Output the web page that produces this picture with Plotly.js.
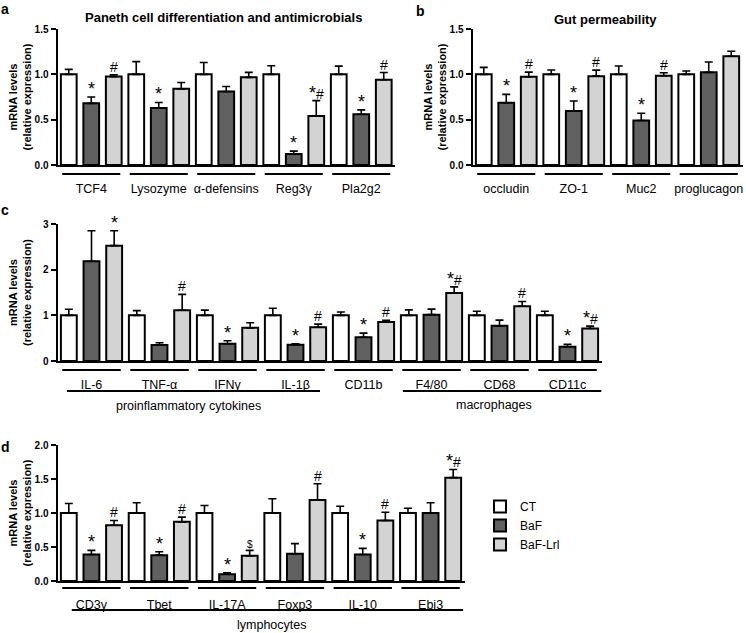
<!DOCTYPE html>
<html>
<head>
<meta charset="utf-8">
<script src="https://cdn.plot.ly/plotly-3.0.1.min.js"></script>
<style>html,body{margin:0;padding:0;background:#fff;}#chart{width:746px;height:633px;}</style>
</head>
<body>
<div id="chart"></div>
<script>
// ---------- DATA ----------
const seriesNames = ['CT', 'BaF', 'BaF-Lrl'];

// Panel a: Paneth cell differentiation and antimicrobials
const catA = ['TCF4', 'Lysozyme', 'α-defensins', 'Reg3γ', 'Pla2g2'];
const ctA = [1.0, 1.0, 1.0, 1.0, 1.0];
const ctAErr = [0.055, 0.14, 0.13, 0.095, 0.09];
const bafA = [0.68, 0.63, 0.81, 0.12, 0.56];
const bafAErr = [0.07, 0.06, 0.055, 0.033, 0.048];
const lrlA = [0.975, 0.84, 0.967, 0.54, 0.94];
const lrlAErr = [0.02, 0.07, 0.055, 0.17, 0.08];
const sigBafA = ['*', '*', '', '*', '*'];
const sigLrlA = ['#', '', '', '*#', '#'];

// Panel b: Gut permeability
const catB = ['occludin', 'ZO-1', 'Muc2', 'proglucagon'];
const ctB = [1.0, 1.0, 1.0, 1.0];
const ctBErr = [0.077, 0.048, 0.092, 0.037];
const bafB = [0.687, 0.596, 0.49, 1.022];
const bafBErr = [0.092, 0.11, 0.08, 0.114];
const lrlB = [0.974, 0.98, 0.985, 1.2];
const lrlBErr = [0.05, 0.066, 0.033, 0.055];
const sigBafB = ['*', '*', '*', ''];
const sigLrlB = ['#', '#', '#', ''];

// Panel c: cytokines and macrophage markers
const catC = ['IL-6', 'TNF-α', 'IFNγ', 'IL-1β', 'CD11b', 'F4/80', 'CD68', 'CD11c'];
const ctC = [1.0, 1.0, 1.0, 1.0, 1.0, 1.0, 1.0, 1.0];
const ctCErr = [0.133, 0.104, 0.114, 0.155, 0.074, 0.12, 0.09, 0.09];
const bafC = [2.185, 0.348, 0.378, 0.356, 0.52, 1.015, 0.77, 0.311];
const bafCErr = [0.667, 0.052, 0.067, 0.022, 0.09, 0.12, 0.126, 0.052];
const lrlC = [2.526, 1.111, 0.726, 0.74, 0.852, 1.49, 1.2, 0.711];
const lrlCErr = [0.326, 0.348, 0.11, 0.067, 0.037, 0.133, 0.104, 0.052];
const sigBafC = ['', '', '*', '*', '*', '', '', '*'];
const sigLrlC = ['*', '#', '', '#', '#', '*#', '#', '*#'];
const groupC1 = 'proinflammatory cytokines';
const groupC2 = 'macrophages';

// Panel d: lymphocytes
const catD = ['CD3γ', 'Tbet', 'IL-17A', 'Foxp3', 'IL-10', 'Ebi3'];
const ctD = [1.0, 1.0, 1.0, 1.0, 1.0, 1.0];
const ctDErr = [0.14, 0.15, 0.11, 0.21, 0.1, 0.07];
const bafD = [0.39, 0.38, 0.1, 0.4, 0.39, 1.0];
const bafDErr = [0.06, 0.05, 0.02, 0.15, 0.09, 0.15];
const lrlD = [0.82, 0.87, 0.37, 1.19, 0.89, 1.52];
const lrlDErr = [0.07, 0.07, 0.08, 0.24, 0.12, 0.12];
const sigBafD = ['*', '*', '*', '', '*', ''];
const sigLrlD = ['#', '#', '$', '#', '#', '*#'];
const groupD1 = 'lymphocytes';

// ---------- STYLE / LAYOUT ----------
const W = 746, H = 633;
const FONT = 'Arial, "Liberation Sans", Helvetica, sans-serif';
const colors = ['#ffffff', '#606060', '#d3d3d3'];
const px = p => p / W;
const py = p => 1 - p / H;

const panels = [
  {key: 'a', xa: 'x',  ya: 'y',  cats: catA, vals: [ctA, bafA, lrlA], errs: [ctAErr, bafAErr, lrlAErr], sig: [null, sigBafA, sigLrlA],
   x0: 57.5, x1: 395, y0: 29, y1: 165, yr: [0, 1.5], dtick: 0.5, fmt: '.1f', ul: 174, letter: [5, 9], title: 'Paneth cell differentiation and antimicrobials', tpos: [224, 18]},
  {key: 'b', xa: 'x2', ya: 'y2', cats: catB, vals: [ctB, bafB, lrlB], errs: [ctBErr, bafBErr, lrlBErr], sig: [null, sigBafB, sigLrlB],
   x0: 472.5, x1: 742.5, y0: 29, y1: 165, yr: [0, 1.5], dtick: 0.5, fmt: '.1f', ul: 174, letter: [420, 11], title: 'Gut permeability', tpos: [605, 19]},
  {key: 'c', xa: 'x3', ya: 'y3', cats: catC, vals: [ctC, bafC, lrlC], errs: [ctCErr, bafCErr, lrlCErr], sig: [null, sigBafC, sigLrlC],
   x0: 57.5, x1: 601.5, y0: 224, y1: 361, yr: [0, 3], dtick: 1, fmt: 'd', ul: 370, letter: [5, 210]},
  {key: 'd', xa: 'x4', ya: 'y4', cats: catD, vals: [ctD, bafD, lrlD], errs: [ctDErr, bafDErr, lrlDErr], sig: [null, sigBafD, sigLrlD],
   x0: 57.5, x1: 464.5, y0: 445, y1: 581, yr: [0, 2], dtick: 0.5, fmt: '.1f', ul: 588, letter: [5, 447]}
];

const traces = [];
const annotations = [];
const shapes = [];
const layout = {
  width: W, height: H,
  margin: {l: 0, r: 0, t: 0, b: 0},
  paper_bgcolor: '#fff', plot_bgcolor: '#fff',
  font: {family: FONT, color: '#000'},
  barmode: 'group', bargap: 0, bargroupgap: 0.3,
  showlegend: true,
  legend: {x: px(480), y: py(492), xanchor: 'left', yanchor: 'top', font: {size: 12, family: FONT}, bgcolor: 'rgba(0,0,0,0)', tracegroupgap: 0, itemwidth: 30},
  annotations: annotations, shapes: shapes
};

function sigText(s) {
  return s.replace('*', '<span style="font-size:18px">*</span>');
}

panels.forEach((p, pi) => {
  const axN = p.xa === 'x' ? '' : p.xa.slice(1);
  layout['xaxis' + axN] = {
    domain: [px(p.x0), px(p.x1)], anchor: p.ya, type: 'category',
    range: [-0.5, p.cats.length - 0.5],
    showline: true, linewidth: 2, linecolor: '#000', ticks: '', showgrid: false, zeroline: false,
    tickfont: {size: 12.5, family: FONT, color: '#000'}, ticklabelstandoff: 11, fixedrange: true
  };
  layout['yaxis' + axN] = {
    domain: [py(p.y1), py(p.y0)], anchor: p.xa, range: p.yr, dtick: p.dtick, tick0: 0, tickformat: p.fmt,
    showline: true, linewidth: 2, linecolor: '#000', ticks: 'outside', ticklen: 5, tickwidth: 2, tickcolor: '#000',
    showgrid: false, zeroline: false, tickfont: {size: 10, family: FONT, color: '#000', weight: 'bold'}, fixedrange: true
  };
  p.vals.forEach((v, j) => {
    traces.push({
      type: 'bar', name: seriesNames[j], x: p.cats, y: v, xaxis: p.xa, yaxis: p.ya,
      marker: {color: colors[j], line: {color: '#000', width: 2}},
      error_y: {type: 'data', array: p.errs[j], arrayminus: v.map(() => 0), symmetric: false, color: '#000', thickness: 1.6, width: 4},
      showlegend: pi === 0, legendgroup: seriesNames[j], hoverinfo: 'skip'
    });
    if (p.sig[j]) {
      p.sig[j].forEach((s, i) => {
        if (!s) return;
        annotations.push({
          xref: p.xa, yref: p.ya, x: i + (j - 1) / 3, y: v[i] + p.errs[j][i], text: sigText(s),
          showarrow: false, yanchor: 'bottom', yshift: s.indexOf('*') >= 0 ? -4 : -2, xanchor: 'center',
          font: {size: s === '$' ? 10 : 14, family: FONT, color: '#000'}
        });
      });
    }
  });
  // group underlines
  p.cats.forEach((c, i) => {
    shapes.push({type: 'line', xref: p.xa, yref: 'paper', x0: i - 0.43, x1: i + 0.43, y0: py(p.ul), y1: py(p.ul), line: {color: '#000', width: 2}});
  });
  // y-axis title
  annotations.push({
    xref: 'paper', yref: 'paper', x: px(p.x0 - 38), y: py((p.y0 + p.y1) / 2), textangle: -90,
    text: '<b>mRNA levels<br>(relative expression)</b>', showarrow: false, xanchor: 'center', yanchor: 'middle',
    font: {size: 11, family: FONT, color: '#000'}
  });
  // panel letter
  annotations.push({
    xref: 'paper', yref: 'paper', x: px(p.letter[0]), y: py(p.letter[1]), text: '<b>' + p.key + '</b>',
    showarrow: false, xanchor: 'center', yanchor: 'middle', font: {size: 14, family: FONT, color: '#000'}
  });
  if (p.title) {
    annotations.push({
      xref: 'paper', yref: 'paper', x: px(p.tpos[0]), y: py(p.tpos[1]), text: '<b>' + p.title + '</b>',
      showarrow: false, xanchor: 'center', yanchor: 'middle', font: {size: 13, family: FONT, color: '#000'}
    });
  }
});

// second-level groupings
const groupLines = [
  {xa: 'x3', a: -0.36, b: 3.36, y: 391, text: groupC1, tx: 1.43, ty: 406},
  {xa: 'x3', a: 4.58, b: 7.5, y: 391, text: groupC2, tx: 5.92, ty: 405},
  {xa: 'x4', a: -0.29, b: 5.48, y: 610, text: groupD1, tx: 2.66, ty: 625}
];
groupLines.forEach(g => {
  shapes.push({type: 'line', xref: g.xa, yref: 'paper', x0: g.a, x1: g.b, y0: py(g.y), y1: py(g.y), line: {color: '#000', width: 2}});
  annotations.push({xref: g.xa, yref: 'paper', x: g.tx, y: py(g.ty), text: g.text, showarrow: false, xanchor: 'center', yanchor: 'middle',
    font: {size: 12.5, family: FONT, color: '#000'}});
});

Plotly.newPlot('chart', traces, layout, {displayModeBar: false, staticPlot: true});
</script>
</body>
</html>
